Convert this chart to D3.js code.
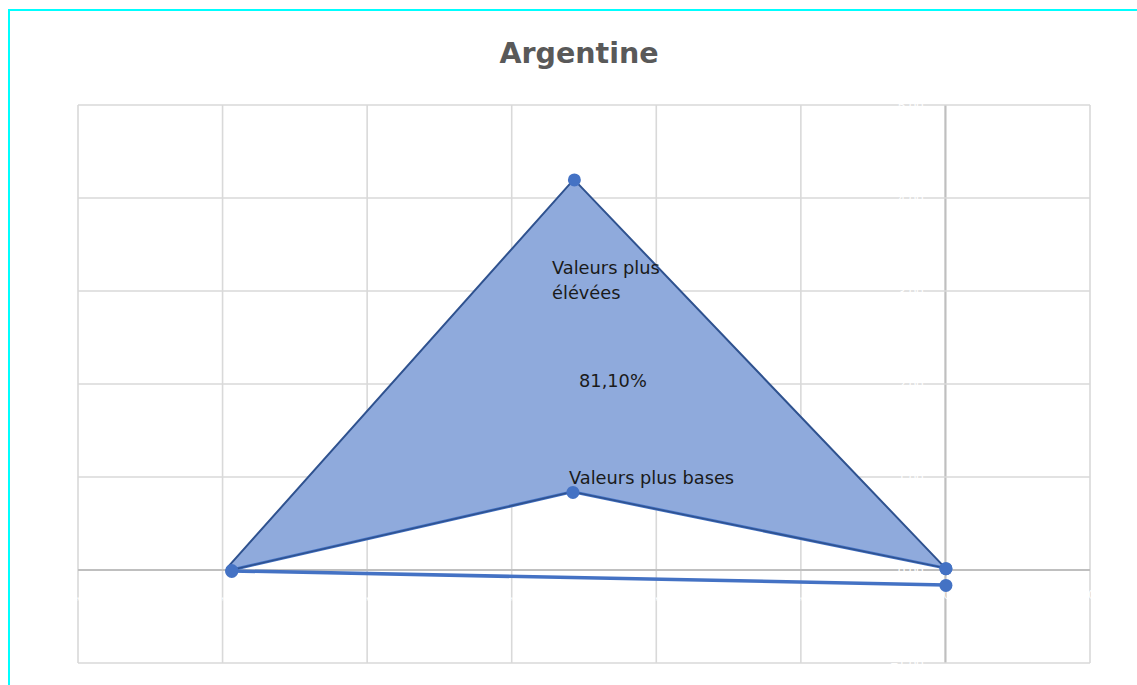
<!DOCTYPE html>
<html>
<head>
<meta charset="utf-8">
<script src="https://cdn.jsdelivr.net/npm/d3@7"></script>
<style>
  html, body { margin: 0; padding: 0; background: #fff; }
  svg { display: block; }
</style>
</head>
<body>
<svg id="chart" width="1137" height="685"></svg>
<script>
// Axis ticks
const xTicks = [-6, -5, -4, -3, -2, -1, 0, 1];
const yTicks = [-1, 0, 1, 2, 3, 4, 5];

// Upper boundary of the shaded region
const upperX = [-4.97, -2.57, 0];
const upperY = [0.02, 4.2, 0.02];

// Lower boundary of the shaded region
const lowerX = [-4.94, -2.58, 0];
const lowerY = [0.0, 0.84, 0.02];

// Baseline series
const baseX = [-4.94, 0];
const baseY = [-0.01, -0.16];

const title = "Argentine";
const labelHigh = ["Valeurs plus", "élévées"];
const labelPct = "81,10%";
const labelLow = "Valeurs plus bases";

const svg = d3.select("#chart");
const W = 1137, H = 685;

// frame lines along top and left
svg.append("line").attr("x1", 8).attr("y1", 10).attr("x2", W).attr("y2", 10)
  .attr("stroke", "#00ffff").attr("stroke-width", 2);
svg.append("line").attr("x1", 9).attr("y1", 10).attr("x2", 9).attr("y2", H)
  .attr("stroke", "#00ffff").attr("stroke-width", 2);

const plot = { left: 78, right: 1090, top: 105, bottom: 663 };

const x = d3.scaleLinear().domain([-6, 1]).range([plot.left, plot.right]);
const y = d3.scaleLinear().domain([-1, 5]).range([plot.bottom, plot.top]);

// gridlines
const grid = svg.append("g");
grid.selectAll(".gx").data(xTicks).join("line")
  .attr("x1", d => x(d)).attr("x2", d => x(d))
  .attr("y1", plot.top).attr("y2", plot.bottom)
  .attr("stroke", d => d === 0 ? "#bfbfbf" : "#d9d9d9")
  .attr("stroke-width", d => d === 0 ? 2.2 : 1.6);
grid.selectAll(".gy").data(yTicks).join("line")
  .attr("y1", d => y(d)).attr("y2", d => y(d))
  .attr("x1", plot.left).attr("x2", plot.right)
  .attr("stroke", d => d === 0 ? "#bfbfbf" : "#d9d9d9")
  .attr("stroke-width", d => d === 0 ? 2.2 : 1.6);

// tick labels (white text)
const fmt = d3.format(",.2f");
const tickFont = "'Liberation Sans', Arial, sans-serif";
svg.append("g").selectAll("text").data(yTicks).join("text")
  .attr("x", x(0) - 22).attr("y", d => y(d) + 5)
  .attr("text-anchor", "end")
  .attr("font-family", tickFont).attr("font-size", 13)
  .attr("fill", "#ffffff")
  .text(d => fmt(d).replace(".", ","));
svg.append("g").selectAll("text").data(xTicks).join("text")
  .attr("x", d => x(d)).attr("y", y(0) + 29)
  .attr("text-anchor", "middle")
  .attr("font-family", tickFont).attr("font-size", 13)
  .attr("fill", "#ffffff")
  .text(d => fmt(d).replace(".", ","));

// shaded region between the two boundaries
const upper = upperX.map((v, i) => [x(v), y(upperY[i])]);
const lower = lowerX.map((v, i) => [x(v), y(lowerY[i])]);
const polygon = upper.concat(lower.slice().reverse());
svg.append("path")
  .attr("d", d3.line()(polygon) + "Z")
  .attr("fill", "#8faadc")
  .attr("stroke", "none");

const line = d3.line();

// baseline series
const base = baseX.map((v, i) => [x(v), y(baseY[i])]);
svg.append("path").attr("d", line(base))
  .attr("fill", "none").attr("stroke", "#4472c4").attr("stroke-width", 3.5);

// lower boundary
svg.append("path").attr("d", line(lower))
  .attr("fill", "none").attr("stroke", "#4472c4").attr("stroke-width", 3);
svg.append("path").attr("d", line(lower))
  .attr("fill", "none").attr("stroke", "#2f528f").attr("stroke-width", 1.5);

// upper boundary
svg.append("path").attr("d", line(upper))
  .attr("fill", "none").attr("stroke", "#2f528f").attr("stroke-width", 2);

// markers
const markers = [upper.slice(1), lower, base].flat();
svg.append("g").selectAll("circle").data(markers).join("circle")
  .attr("cx", d => d[0] + 0.5).attr("cy", d => d[1] + 0.5)
  .attr("r", 6.5)
  .attr("fill", "#4472c4");

// title
svg.append("text")
  .attr("x", 579).attr("y", 63)
  .attr("text-anchor", "middle")
  .attr("font-family", "'DejaVu Sans', sans-serif")
  .attr("font-weight", "bold")
  .attr("font-size", 28.5)
  .attr("fill", "#595959")
  .text(title);

// annotations
const annFont = "'DejaVu Sans', sans-serif";
const ann = svg.append("g")
  .attr("font-family", annFont).attr("font-size", 17.8).attr("fill", "#1a1a1a");
ann.append("text").attr("x", 552).attr("y", 274).text(labelHigh[0]);
ann.append("text").attr("x", 552).attr("y", 299).text(labelHigh[1]);
ann.append("text").attr("x", 579).attr("y", 387).text(labelPct);
ann.append("text").attr("x", 569).attr("y", 484).text(labelLow);
</script>
</body>
</html>
